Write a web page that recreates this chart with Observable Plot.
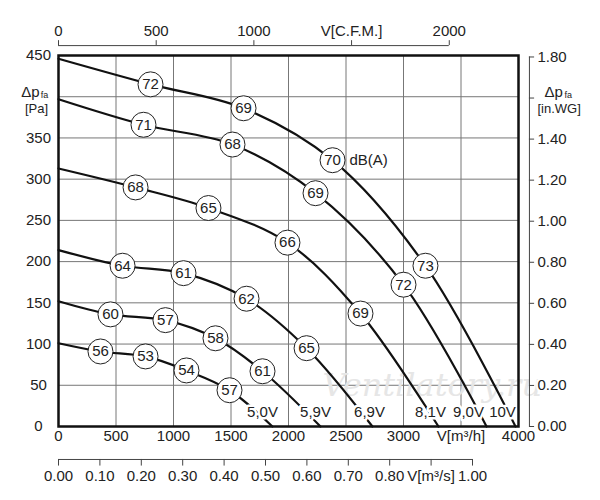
<!DOCTYPE html>
<html><head><meta charset="utf-8">
<script src="https://cdn.jsdelivr.net/npm/d3@7"></script>
<script src="https://cdn.jsdelivr.net/npm/@observablehq/plot@0.6"></script>
<style>body{margin:0;background:#fff}</style>
</head><body><div id="c"></div>
<script>
// Curves: [flow m3/h, pressure Pa, dB label or null]
const c10 = [[0,446,null],[800,415,72],[1609,386,69],[2383,323,70],[3191,195,73],[3974,0,null]];
const c9  = [[0,397,null],[739,366,71],[1513,342,68],[2235,283,69],[3000,172,72],[3722,0,null]];
const c81 = [[0,313,null],[670,290,68],[1304,265,65],[1991,223,66],[2626,137,69],[3304,0,null]];
const c69 = [[0,214,null],[557,195,64],[1087,186,61],[1635,155,62],[2157,95,65],[2730,0,null]];
const c59 = [[0,152,null],[452,136,60],[930,129,57],[1365,107,58],[1774,67,61],[2278,0,null]];
const c50 = [[0,101,null],[365,91,56],[757,85,53],[1113,68,54],[1487,44,57],[1860,0,null]];
const curves = [c10,c9,c81,c69,c59,c50];
const voltLabels = ["10V","9,0V","8,1V","6,9V","5,9V","5,0V"];
const voltX = [3861,3565,3235,2704,2235,1774];
const xTicks = [0,500,1000,1500,2000,2500,3000,3500,4000];
const yTicks = [0,50,100,150,200,250,300,350,400,450];
const cfmTicks = [0,500,1000,1500,2000];
const m3sTicks = [0,0.1,0.2,0.3,0.4,0.5,0.6,0.7,0.8,0.9,1.0];
const inwgTicks = [0,0.2,0.4,0.6,0.8,1.0,1.2,1.4,1.6,1.8];

const line = curves.flatMap((c,i)=>c.map(d=>({x:d[0],y:d[1],s:i})));
const labels = curves.flatMap(c=>c.filter(d=>d[2]!=null).map(d=>({x:d[0],y:d[1],t:String(d[2])})));
const F = "Liberation Sans, Arial, sans-serif";
const CFM = 1.699, M3S = 3600, INWG = 249;
const topY = 462, botY = -40;
const rightX = 4095;

const plot = Plot.plot({
  width:600, height:500,
  marginLeft:58, marginRight:82, marginTop:55, marginBottom:74,
  style:{fontFamily:F, fontSize:"14px", background:"#fff"},
  x:{domain:[0,4000], axis:null},
  y:{domain:[0,450], axis:null},
  marks:[
    Plot.ruleX(xTicks,{stroke:"#777",strokeWidth:1}),
    Plot.ruleY(yTicks,{stroke:"#777",strokeWidth:1}),
    Plot.text(["Ventilatory.ru"],{x:3250,y:50,text:d=>d,fontSize:32,fontStyle:"italic",fontFamily:"DejaVu Serif, serif",fill:"#e6e6e6"}),
    Plot.line(line,{x:"x",y:"y",z:"s",curve:"catmull-rom",stroke:"#111",strokeWidth:2.2}),
    Plot.text(voltLabels,{x:(d,i)=>voltX[i],y:17,text:d=>d,fontSize:15,fill:"#222",stroke:"white",strokeWidth:5}),
    Plot.dot(labels,{x:"x",y:"y",r:12.5,fill:"white",stroke:"#222",strokeWidth:1}),
    Plot.text(labels,{x:"x",y:"y",text:"t",fontSize:15,fill:"#222"}),
    Plot.text(["dB(A)"],{x:2530,y:323,text:d=>d,fontSize:15,textAnchor:"start",fill:"#222"}),
    Plot.frame({stroke:"#111",strokeWidth:2.5}),
    Plot.text(xTicks,{x:d=>d,y:0,dy:14,text:d=>d===3500?"V[m³/h]":String(d),frameAnchor:"bottom",fontSize:15,fill:"#222"}),
    Plot.text(yTicks.filter(d=>d!==400),{x:0,y:d=>d,dx:-20,text:d=>String(d),fontSize:15,fill:"#222"}),
    Plot.text(["Δp"],{x:0,y:405,dx:-28,text:d=>d,fontSize:15,fill:"#222"}),
    Plot.text(["fa"],{x:0,y:402,dx:-14,text:d=>d,fontSize:9,fill:"#222"}),
    Plot.text(["[Pa]"],{x:0,y:385,dx:-22,text:d=>d,fontSize:13,fill:"#222"}),
    Plot.ruleY([topY],{x1:0,x2:2000*CFM,stroke:"#444"}),
    Plot.ruleX(cfmTicks,{x:d=>d*CFM,y1:topY,y2:topY+6,stroke:"#444"}),
    Plot.text(cfmTicks,{x:d=>d*CFM,y:topY+18,text:d=>d===1500?"V[C.F.M.]":String(d),fontSize:15,fill:"#222"}),
    Plot.ruleY([botY],{x1:0,x2:M3S,stroke:"#444"}),
    Plot.ruleX(m3sTicks,{x:d=>d*M3S,y1:botY,y2:botY-8,stroke:"#444"}),
    Plot.text(m3sTicks,{x:d=>d*M3S,y:botY-20,text:d=>Math.abs(d-0.9)<1e-9?"V[m³/s]":d.toFixed(2),fontSize:15,fill:"#222"}),
    Plot.ruleX([rightX],{y1:0,y2:1.8*INWG,stroke:"#444"}),
    Plot.ruleY(inwgTicks,{y:d=>d*INWG,x1:rightX,x2:rightX+45,stroke:"#444"}),
    Plot.text(inwgTicks.filter(d=>Math.abs(d-1.6)>1e-9),{x:rightX+70,y:d=>d*INWG,text:d=>d.toFixed(2),textAnchor:"start",fill:"#222",fontSize:15,stroke:"white",strokeWidth:4}),
    Plot.text(["Δp"],{x:rightX+130,y:405,text:d=>d,textAnchor:"start",fontSize:15,fill:"#222"}),
    Plot.text(["fa"],{x:rightX+130,y:402,dx:20,text:d=>d,textAnchor:"start",fontSize:9,fill:"#222"}),
    Plot.text(["[in.WG]"],{x:rightX+70,y:385,text:d=>d,textAnchor:"start",fontSize:13,fill:"#222"})
  ]
});
plot.style.overflow="visible";
document.getElementById("c").appendChild(plot);
</script></body></html>
